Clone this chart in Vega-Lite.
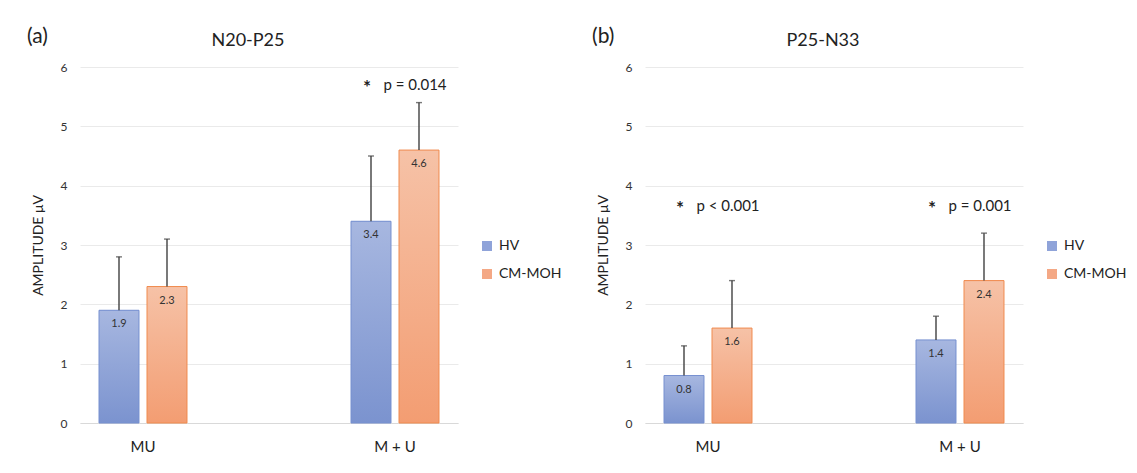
{
  "$schema": "https://vega.github.io/schema/vega-lite/v6.json",
  "background": "white",
  "padding": {"left": 27, "top": 25, "right": 5, "bottom": 5},
  "spacing": 30,
  "datasets": {
    "bars": [
      {"panel": "a", "cat": "MU", "group": "HV", "value": 1.9, "upper": 2.8},
      {"panel": "a", "cat": "MU", "group": "CM-MOH", "value": 2.3, "upper": 3.1},
      {"panel": "a", "cat": "M + U", "group": "HV", "value": 3.4, "upper": 4.5},
      {"panel": "a", "cat": "M + U", "group": "CM-MOH", "value": 4.6, "upper": 5.4},
      {"panel": "b", "cat": "MU", "group": "HV", "value": 0.8, "upper": 1.3},
      {"panel": "b", "cat": "MU", "group": "CM-MOH", "value": 1.6, "upper": 2.4},
      {"panel": "b", "cat": "M + U", "group": "HV", "value": 1.4, "upper": 1.8},
      {"panel": "b", "cat": "M + U", "group": "CM-MOH", "value": 2.4, "upper": 3.2}
    ],
    "notes": [
      {"panel": "a", "cat": "M + U", "star": "*", "label": "p = 0.014", "y": 5.7},
      {"panel": "b", "cat": "MU", "star": "*", "label": "p < 0.001", "y": 3.65},
      {"panel": "b", "cat": "M + U", "star": "*", "label": "p = 0.001", "y": 3.65}
    ]
  },
  "config": {
    "font": "Lato",
    "view": {"stroke": null},
    "axis": {"labelColor": "#333333", "titleColor": "#222222", "titleFontWeight": "normal", "gridColor": "#EAEAEA"},
    "title": {"color": "#222222", "fontWeight": "normal"}
  },
  "resolve": {"legend": {"color": "independent"}},
  "hconcat": [
    {
      "title": {"text": "(a)", "anchor": "start", "frame": "bounds", "fontSize": 21, "dx": -4, "baseline": "alphabetic", "offset": -32},
      "width": 378,
      "height": 356,
      "resolve": {"axis": {"x": "independent"}},
      "layer": [
        {
          "data": {"name": "bars"},
          "transform": [{"filter": "datum.panel === 'a'"}],
          "encoding": {
            "x": {"field": "cat", "type": "nominal", "sort": ["MU", "M + U"], "scale": {"paddingInner": 0.5, "paddingOuter": 0},
              "axis": {"title": null, "labelAngle": 0, "labelFontSize": 15, "labelPadding": 16, "ticks": false, "domain": true, "domainColor": "#D9D9D9", "grid": false, "labelColor": "#222222"}},
            "xOffset": {"field": "group", "type": "nominal", "sort": ["HV", "CM-MOH"], "scale": {"paddingInner": 0.1667, "paddingOuter": 0.396}},
            "y": {"field": "value", "type": "quantitative", "scale": {"domain": [0, 6]},
              "axis": {"title": "AMPLITUDE μV", "values": [0, 1, 2, 3, 4, 5, 6], "format": "d", "labelFontSize": 12, "labelPadding": 13, "titleFontSize": 14, "titlePadding": 15, "domain": false, "ticks": false, "grid": true}}
          },
          "layer": [
            {
              "mark": {"type": "bar"},
              "encoding": {
                "color": {"field": "group", "type": "nominal", "sort": ["HV", "CM-MOH"],
                  "scale": {"domain": ["HV", "CM-MOH"], "range": ["#8FA3D9", "#F4A885"]},
                  "legend": {"orient": "none", "legendX": 400, "legendY": 172, "title": null, "symbolType": "square", "symbolSize": 100, "labelFontSize": 14, "labelColor": "#222222", "rowPadding": 14, "labelOffset": 5}}
              }
            },
            {
              "transform": [{"filter": "datum.group === 'HV'"}],
              "mark": {"type": "bar", "stroke": "#7690D0", "strokeWidth": 1,
                "fill": {"gradient": "linear", "x1": 0, "y1": 0, "x2": 0, "y2": 1, "stops": [{"offset": 0, "color": "#A7B7E0"}, {"offset": 1, "color": "#7B93CF"}]}}
            },
            {
              "transform": [{"filter": "datum.group === 'CM-MOH'"}],
              "mark": {"type": "bar", "stroke": "#F08B4E", "strokeWidth": 1,
                "fill": {"gradient": "linear", "x1": 0, "y1": 0, "x2": 0, "y2": 1, "stops": [{"offset": 0, "color": "#F6C2A7"}, {"offset": 1, "color": "#F39D72"}]}}
            },
            {
              "mark": {"type": "rule", "color": "#404040", "strokeWidth": 1.4},
              "encoding": {"y2": {"field": "upper"}}
            },
            {
              "mark": {"type": "tick", "orient": "horizontal", "color": "#404040", "thickness": 1.4, "size": 6},
              "encoding": {"y": {"field": "upper", "type": "quantitative"}}
            },
            {
              "mark": {"type": "text", "baseline": "top", "dy": 8, "fontSize": 11, "color": "#333333"},
              "encoding": {"text": {"field": "value", "type": "quantitative", "format": ".1f"}}
            }
          ]
        },
        {
          "data": {"name": "notes"},
          "transform": [{"filter": "datum.panel === 'a'"}],
          "encoding": {
            "x": {"field": "cat", "type": "nominal", "sort": ["MU", "M + U"], "scale": {"paddingInner": 0.5, "paddingOuter": 0},
              "axis": {"orient": "top", "labels": false, "ticks": false, "domain": false, "grid": false, "title": "N20-P25", "titleFontSize": 18, "titleX": 167.5, "titleY": -21.5, "titleAlign": "center", "titleBaseline": "alphabetic", "titleColor": "#222222"}},
            "y": {"field": "y", "type": "quantitative", "scale": {"domain": [0, 6]}, "axis": {"title": "AMPLITUDE μV", "format": "d"}}
          },
          "layer": [
            {
              "mark": {"type": "text", "fontSize": 19, "fontWeight": "bold", "color": "#222222", "dx": -4, "dy": 3},
              "encoding": {"xOffset": {"datum": "HV"}, "text": {"field": "star"}}
            },
            {
              "mark": {"type": "text", "fontSize": 15, "color": "#222222", "dx": -4},
              "encoding": {"xOffset": {"datum": "CM-MOH"}, "text": {"field": "label"}}
            }
          ]
        }
      ]
    },
    {
      "title": {"text": "(b)", "anchor": "start", "frame": "bounds", "fontSize": 21, "dx": -4, "baseline": "alphabetic", "offset": -32},
      "width": 378,
      "height": 356,
      "resolve": {"axis": {"x": "independent"}},
      "layer": [
        {
          "data": {"name": "bars"},
          "transform": [{"filter": "datum.panel === 'b'"}],
          "encoding": {
            "x": {"field": "cat", "type": "nominal", "sort": ["MU", "M + U"], "scale": {"paddingInner": 0.5, "paddingOuter": 0},
              "axis": {"title": null, "labelAngle": 0, "labelFontSize": 15, "labelPadding": 16, "ticks": false, "domain": true, "domainColor": "#D9D9D9", "grid": false, "labelColor": "#222222"}},
            "xOffset": {"field": "group", "type": "nominal", "sort": ["HV", "CM-MOH"], "scale": {"paddingInner": 0.1667, "paddingOuter": 0.396}},
            "y": {"field": "value", "type": "quantitative", "scale": {"domain": [0, 6]},
              "axis": {"title": "AMPLITUDE μV", "values": [0, 1, 2, 3, 4, 5, 6], "format": "d", "labelFontSize": 12, "labelPadding": 13, "titleFontSize": 14, "titlePadding": 15, "domain": false, "ticks": false, "grid": true}}
          },
          "layer": [
            {
              "mark": {"type": "bar"},
              "encoding": {
                "color": {"field": "group", "type": "nominal", "sort": ["HV", "CM-MOH"],
                  "scale": {"domain": ["HV", "CM-MOH"], "range": ["#8FA3D9", "#F4A885"]},
                  "legend": {"orient": "none", "legendX": 400, "legendY": 172, "title": null, "symbolType": "square", "symbolSize": 100, "labelFontSize": 14, "labelColor": "#222222", "rowPadding": 14, "labelOffset": 5}}
              }
            },
            {
              "transform": [{"filter": "datum.group === 'HV'"}],
              "mark": {"type": "bar", "stroke": "#7690D0", "strokeWidth": 1,
                "fill": {"gradient": "linear", "x1": 0, "y1": 0, "x2": 0, "y2": 1, "stops": [{"offset": 0, "color": "#A7B7E0"}, {"offset": 1, "color": "#7B93CF"}]}}
            },
            {
              "transform": [{"filter": "datum.group === 'CM-MOH'"}],
              "mark": {"type": "bar", "stroke": "#F08B4E", "strokeWidth": 1,
                "fill": {"gradient": "linear", "x1": 0, "y1": 0, "x2": 0, "y2": 1, "stops": [{"offset": 0, "color": "#F6C2A7"}, {"offset": 1, "color": "#F39D72"}]}}
            },
            {
              "mark": {"type": "rule", "color": "#404040", "strokeWidth": 1.4},
              "encoding": {"y2": {"field": "upper"}}
            },
            {
              "mark": {"type": "tick", "orient": "horizontal", "color": "#404040", "thickness": 1.4, "size": 6},
              "encoding": {"y": {"field": "upper", "type": "quantitative"}}
            },
            {
              "mark": {"type": "text", "baseline": "top", "dy": 8, "fontSize": 11, "color": "#333333"},
              "encoding": {"text": {"field": "value", "type": "quantitative", "format": ".1f"}}
            }
          ]
        },
        {
          "data": {"name": "notes"},
          "transform": [{"filter": "datum.panel === 'b'"}],
          "encoding": {
            "x": {"field": "cat", "type": "nominal", "sort": ["MU", "M + U"], "scale": {"paddingInner": 0.5, "paddingOuter": 0},
              "axis": {"orient": "top", "labels": false, "ticks": false, "domain": false, "grid": false, "title": "P25-N33", "titleFontSize": 18, "titleX": 177.5, "titleY": -21.5, "titleAlign": "center", "titleBaseline": "alphabetic", "titleColor": "#222222"}},
            "y": {"field": "y", "type": "quantitative", "scale": {"domain": [0, 6]}, "axis": {"title": "AMPLITUDE μV", "format": "d"}}
          },
          "layer": [
            {
              "mark": {"type": "text", "fontSize": 19, "fontWeight": "bold", "color": "#222222", "dx": -4, "dy": 3},
              "encoding": {"xOffset": {"datum": "HV"}, "text": {"field": "star"}}
            },
            {
              "mark": {"type": "text", "fontSize": 15, "color": "#222222", "dx": -4},
              "encoding": {"xOffset": {"datum": "CM-MOH"}, "text": {"field": "label"}}
            }
          ]
        }
      ]
    }
  ]
}
